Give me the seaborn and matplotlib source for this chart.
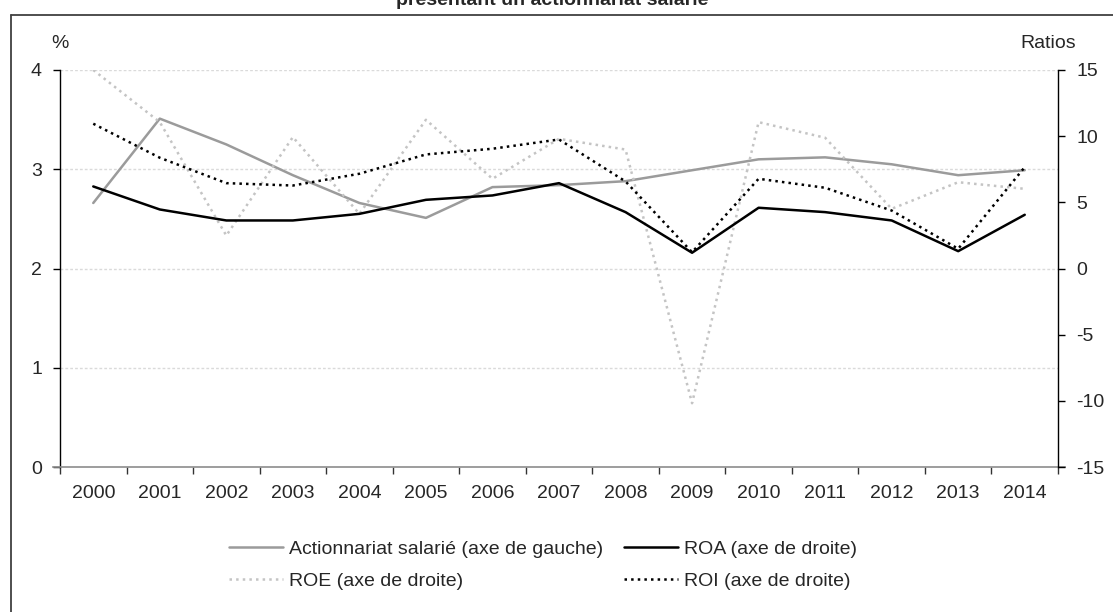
import matplotlib
matplotlib.use("Agg")
import matplotlib.pyplot as plt
from matplotlib.lines import Line2D
import seaborn as sns
import pandas as pd

# --- data -------------------------------------------------------------
years = list(range(2000, 2015))
actionnariat = [2.66, 3.51, 3.25, 2.94, 2.66, 2.51, 2.82, 2.84, 2.88, 2.99,
                3.10, 3.12, 3.05, 2.94, 2.99]          # % (left axis)
roa = [6.2, 4.46, 3.63, 3.63, 4.13, 5.19, 5.52, 6.45, 4.26, 1.19,
       4.59, 4.26, 3.63, 1.31, 4.06]                   # ratios (right axis)
roe = [15.0, 11.06, 2.49, 9.93, 4.13, 11.24, 6.78, 9.80, 8.99, -10.18,
       11.06, 9.88, 4.51, 6.52, 6.02]
roi = [10.94, 8.37, 6.45, 6.27, 7.16, 8.62, 9.05, 9.75, 6.58, 1.23,
       6.78, 6.10, 4.38, 1.49, 7.66]

left_ticks = [0, 1, 2, 3, 4]
right_ticks = [-15, -10, -5, 0, 5, 10, 15]

title = "présentant un actionnariat salarié"
lab_act = "Actionnariat salarié (axe de gauche)"
lab_roa = "ROA (axe de droite)"
lab_roe = "ROE (axe de droite)"
lab_roi = "ROI (axe de droite)"

df = pd.DataFrame({"annee": years, "act": actionnariat,
                   "roa": roa, "roe": roe, "roi": roi})

# --- style ------------------------------------------------------------
sns.set_style("white")
plt.rcParams["font.family"] = ["Liberation Sans", "DejaVu Sans"]
FS = 14

W, H = 1113, 612
fig = plt.figure(figsize=(W / 100, H / 100), dpi=100)
ax = fig.add_axes([60 / W, (H - 467) / H, (1058 - 60) / W, (467 - 70) / H])
ax2 = ax.twinx()

C_ACT = "#9b9b9b"
C_ROE = "#c4c4c4"
LW = 1.8

sns.lineplot(data=df, x="annee", y="act", ax=ax, color=C_ACT, lw=LW,
             label=lab_act, legend=False, zorder=3)
sns.lineplot(data=df, x="annee", y="roe", ax=ax2, color=C_ROE, lw=LW,
             linestyle=":", label=lab_roe, legend=False, zorder=2)
sns.lineplot(data=df, x="annee", y="roa", ax=ax2, color="black", lw=LW,
             label=lab_roa, legend=False, zorder=3)
sns.lineplot(data=df, x="annee", y="roi", ax=ax2, color="black", lw=LW,
             linestyle=":", label=lab_roi, legend=False, zorder=4)

# --- axes -------------------------------------------------------------
ax.set_xlim(years[0] - 0.5, years[-1] + 0.5)
ax.set_ylim(0, 4)
ax2.set_ylim(-15, 15)
ax.set_xlabel("")
ax.set_ylabel("")
ax2.set_ylabel("")

ax.set_xticks(years)
ax.set_xticklabels([str(y) for y in years], fontsize=FS)
ax.set_xticks([y - 0.5 for y in years] + [years[-1] + 0.5], minor=True)
ax.tick_params(axis="x", which="major", length=0, pad=13)
ax.tick_params(axis="x", which="minor", length=5, width=1, color="#333333",
               direction="out", bottom=True)

ax.set_yticks(left_ticks)
ax.set_yticklabels([str(v) for v in left_ticks], fontsize=FS)
ax.tick_params(axis="y", length=5, width=1, direction="out", pad=8,
               color="black", left=True)
ax2.set_yticks(right_ticks)
ax2.set_yticklabels([str(v) for v in right_ticks], fontsize=FS)
ax2.tick_params(axis="y", length=5, width=1, direction="out", pad=8,
                color="black", right=True)

ax.grid(False)
ax2.grid(False)
for v in left_ticks[1:]:
    ax.axhline(v, color="#dadada", lw=1, ls=(0, (2, 1.5)), zorder=1)

for s in ("top", "right"):
    ax.spines[s].set_visible(False)
for s in ("top", "left", "bottom"):
    ax2.spines[s].set_visible(False)
ax.spines["left"].set_color("black")
ax.spines["left"].set_linewidth(1)
ax2.spines["right"].set_color("black")
ax2.spines["right"].set_linewidth(1)
ax.spines["bottom"].set_color("#8c8c8c")
ax.spines["bottom"].set_linewidth(1.2)
ext = 7 / ((1058 - 60) / 15)
ax.spines["bottom"].set_bounds(years[0] - 0.5 - ext, years[-1] + 0.5 + ext)

ax.text(0.0, 1.045, "%", transform=ax.transAxes, ha="center", va="bottom",
        fontsize=FS)
ax2.text(0.99, 1.045, "Ratios", transform=ax2.transAxes, ha="center",
         va="bottom", fontsize=FS)

# --- legend -----------------------------------------------------------
h1, l1 = ax.get_legend_handles_labels()
h2, l2 = ax2.get_legend_handles_labels()
handles = dict(zip(l1 + l2, h1 + h2))
order = [lab_act, lab_roe, lab_roa, lab_roi]
fig.legend([handles[k] for k in order], order, ncol=2, frameon=False,
           loc="center", bbox_to_anchor=(543 / W, 1 - 565 / H),
           fontsize=FS, handlelength=2.75, handletextpad=0.3,
           columnspacing=1.1, labelspacing=0.75, borderpad=0)

# --- frame and clipped title -----------------------------------------
fig.add_artist(Line2D([11 / W, 1], [1 - 15 / H, 1 - 15 / H],
                      transform=fig.transFigure, color="#404040", lw=1.3))
fig.add_artist(Line2D([11 / W, 11 / W], [0, 1 - 15 / H],
                      transform=fig.transFigure, color="#404040", lw=1.3))
fig.text(552 / W, 1 - 5 / H, title, ha="center", va="baseline",
         fontsize=FS, fontweight="bold")

fig.savefig("out.png", dpi=100)
